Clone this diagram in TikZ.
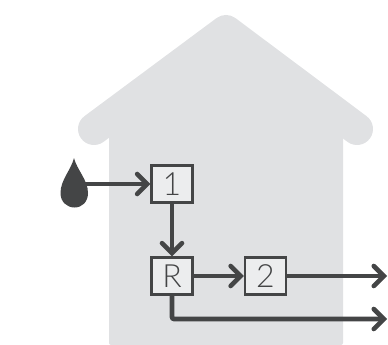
\documentclass[tikz,border=0pt]{standalone}
\usepackage{fontspec}
\setmainfont{Lato Light}
\usetikzlibrary{arrows.meta}
\definecolor{housegray}{HTML}{E0E1E3}
\definecolor{boxgray}{HTML}{ECEDEE}
\definecolor{darkgray}{HTML}{444546}
\tikzset{
  stage/.style={draw=darkgray, line width=2.2pt, fill=boxgray, text=darkgray, minimum width=41pt, minimum height=37pt, inner sep=0pt, font=\fontsize{32}{32}\selectfont},
  flow/.style={draw=darkgray, line width=4.6pt, -{Straight Barb[length=10pt, width=20pt, line cap=round, line width=4.6pt]}, rounded corners=2pt}
}
\begin{document}
\begin{tikzpicture}[x=1pt, y=-1pt]
\useasboundingbox (0,0) rectangle (388,345);
\fill[housegray, rounded corners=2pt] (109,120) -- (343,120) -- (343,345) -- (109,345) -- cycle;
\fill[housegray] (94,129) -- (226,31) -- (357,129) -- cycle;
\draw[housegray, line width=32pt, line cap=round, line join=round] (94,129) -- (226,31) -- (357,129);
\fill[darkgray] (74,158) .. controls (71,170) and (60.5,180) .. (60.5,193) .. controls (60.5,202) and (67,207.5) .. (74.5,207.5) .. controls (82,207.5) and (88,202) .. (88,193) .. controls (88,180) and (77,170) .. (74,158) -- cycle;
\coordinate (drop) at (85,184);
\coordinate (outtop) at (387,276);
\coordinate (outlow) at (387,319);
\node[stage] (one) at (172,184) {1};
\node[stage] (recycle) at (172,276) {R};
\node[stage] (two) at (265.5,276) {2};
\draw[flow] (drop) -- (one.west);
\draw[flow] (one.south) -- (recycle.north);
\draw[flow] (recycle.east) -- (two.west);
\draw[flow] (two.east) -- (outtop);
\draw[flow] (recycle.south) |- (outlow);
\end{tikzpicture}
\end{document}
